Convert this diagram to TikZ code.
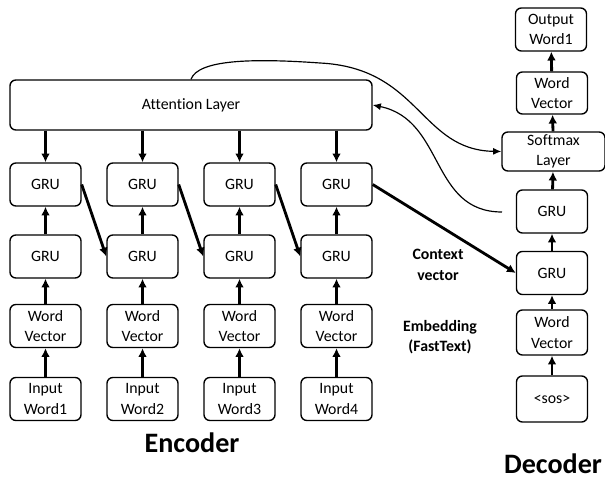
\documentclass[tikz,border=0pt]{standalone}
\usepackage{fontspec}
\setmainfont[Ligatures=NoCommon]{Carlito}
\usetikzlibrary{positioning,arrows.meta}

\begin{document}
\begin{tikzpicture}[x=0.03cm,y=-0.03cm]
\tikzstyle{unit}=[rectangle, rounded corners=5pt, draw=black, line width=1.2pt, minimum width=2.13cm, minimum height=1.29cm, align=center, inner sep=1pt, font=\fontsize{13.5}{17.5}\selectfont]
\tikzstyle{connect}=[-{Latex[length=7.5pt,width=7.5pt]}, line width=2.4pt]
\tikzstyle{loop}=[-{Latex[length=7pt,width=6pt]}, line width=1pt]
\tikzstyle{note}=[align=center, font=\fontsize{13.5}{17.5}\selectfont\bfseries]
\tikzstyle{title}=[font=\fontsize{24}{28}\selectfont\bfseries]
\useasboundingbox (0,0) rectangle (605,482);
	% encoder
	\node[unit, minimum width=10.86cm, minimum height=1.5cm] (att) at (191,105) {Attention Layer};
	\node[unit] (in_1) at (45.5,399) {Input\\Word1};
	\node[unit] (in_2) at (142.5,399) {Input\\Word2};
	\node[unit] (in_3) at (239.5,399) {Input\\Word3};
	\node[unit] (in_4) at (336.5,399) {Input\\Word4};
	\node[unit] (wv_1) at (45.5,326) {Word\\Vector};
	\node[unit] (wv_2) at (142.5,326) {Word\\Vector};
	\node[unit] (wv_3) at (239.5,326) {Word\\Vector};
	\node[unit] (wv_4) at (336.5,326) {Word\\Vector};
	\node[unit] (ga_1) at (45.5,256.5) {GRU};
	\node[unit] (ga_2) at (142.5,256.5) {GRU};
	\node[unit] (ga_3) at (239.5,256.5) {GRU};
	\node[unit] (ga_4) at (336.5,256.5) {GRU};
	\node[unit] (gb_1) at (45.5,184.5) {GRU};
	\node[unit] (gb_2) at (142.5,184.5) {GRU};
	\node[unit] (gb_3) at (239.5,184.5) {GRU};
	\node[unit] (gb_4) at (336.5,184.5) {GRU};
	% decoder
	\node[unit, minimum height=1.38cm] (sos) at (552,399) {<sos>};
	\node[unit, minimum height=1.35cm] (dwv) at (552,332.5) {Word\\Vector};
	\node[unit] (dg_1) at (552,273) {GRU};
	\node[unit] (dg_2) at (552,211.5) {GRU};
	\node[unit, minimum width=3.09cm, minimum height=1.17cm] (soft) at (553.5,151.5) {Softmax\\Layer};
	\node[unit, minimum height=1.26cm] (owv) at (552,93) {Word\\Vector};
	\node[unit] (out) at (551,29.5) {Output\\Word1};
	% labels
	\node[note] (ctx) at (438,265) {Context\\vector};
	\node[note] (emb) at (440,337) {Embedding\\(FastText)};
	\node[title] (enc) at (192,443) {Encoder};
	\node[title] (dec) at (553,464) {Decoder};
	\coordinate (fb) at (502,212);

	\path
		(in_1) edge [connect] (wv_1)
		(in_2) edge [connect] (wv_2)
		(in_3) edge [connect] (wv_3)
		(in_4) edge [connect] (wv_4)
		(wv_1) edge [connect] (ga_1)
		(wv_2) edge [connect] (ga_2)
		(wv_3) edge [connect] (ga_3)
		(wv_4) edge [connect] (ga_4)
		(ga_1) edge [connect] (gb_1)
		(ga_2) edge [connect] (gb_2)
		(ga_3) edge [connect] (gb_3)
		(ga_4) edge [connect] (gb_4)
		(gb_1 |- att.south) edge [connect] (gb_1)
		(gb_2 |- att.south) edge [connect] (gb_2)
		(gb_3 |- att.south) edge [connect] (gb_3)
		(gb_4 |- att.south) edge [connect] (gb_4)
		(gb_1.east) edge [connect] (ga_2.west)
		(gb_2.east) edge [connect] (ga_3.west)
		(gb_3.east) edge [connect] (ga_4.west)
		(gb_4.east) edge [connect] (dg_1.west)
		(sos) edge [connect] (dwv)
		(dwv) edge [connect] (dg_1)
		(dg_1) edge [connect] (dg_2)
		(dg_2) edge [connect] (soft)
		(soft) edge [connect] (owv)
		(owv) edge [connect] (out);

	\draw[loop] (att.north) .. controls (198,60) and (250,58) .. (320,63)
		.. controls (420,68) and (420,150) .. (soft.west);
	\draw[loop] (fb) .. controls (430,212) and (445,120) .. (att.east);
\end{tikzpicture}
\end{document}
